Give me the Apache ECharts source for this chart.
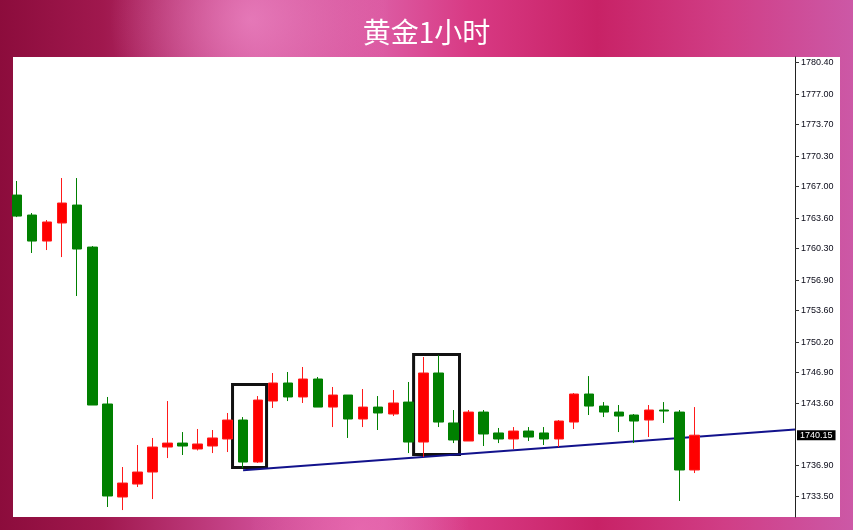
<!DOCTYPE html>
<html>
<head>
<meta charset="utf-8">
<script src="https://cdn.jsdelivr.net/npm/echarts@6/dist/echarts.min.js"></script>
<style>html,body{margin:0;padding:0;background:#c02a70;}#c{width:853px;height:530px;}</style>
</head>
<body>
<div id="c"></div>
<script>
// ---- data ----
var titleText = '黄金1小时';
var openVals  = [1766.10,1763.94,1761.13,1763.08,1765.02,1760.48,1743.52,1733.47,1734.87,1736.17,1738.87,1739.30,1738.66,1738.98,1739.74,1741.79,1737.25,1743.84,1745.79,1744.28,1746.22,1743.19,1744.49,1741.90,1743.19,1742.44,1743.73,1739.41,1746.87,1741.47,1739.52,1742.65,1740.39,1739.74,1740.60,1740.39,1739.74,1741.57,1744.60,1743.30,1742.65,1742.33,1741.79,1742.87,1742.65,1736.39];
var closeVals = [1763.83,1761.13,1763.19,1765.24,1760.27,1743.41,1733.58,1734.98,1736.17,1738.87,1739.30,1738.98,1739.20,1739.85,1741.79,1737.25,1743.95,1745.79,1744.28,1746.22,1743.19,1744.49,1741.90,1743.19,1742.55,1743.63,1739.41,1746.87,1741.57,1739.63,1742.65,1740.28,1739.74,1740.60,1739.95,1739.74,1741.68,1744.60,1743.30,1742.65,1742.22,1741.68,1742.87,1742.76,1736.39,1740.15];
var lowVals   = [1763.72,1759.84,1760.16,1759.40,1755.19,1743.41,1732.39,1732.06,1734.55,1733.25,1737.68,1738.01,1738.50,1738.22,1738.33,1736.60,1737.15,1743.09,1743.84,1743.63,1743.19,1741.03,1739.85,1741.03,1740.71,1742.22,1738.22,1737.79,1741.03,1739.30,1739.52,1738.98,1739.30,1738.66,1739.52,1739.09,1738.87,1740.82,1742.33,1742.11,1740.49,1739.30,1739.95,1741.47,1733.04,1736.06];
var highVals  = [1767.62,1764.16,1763.40,1767.94,1767.94,1760.59,1744.28,1736.71,1739.09,1739.85,1743.84,1740.49,1740.82,1740.71,1742.55,1742.11,1744.38,1746.87,1746.98,1747.52,1746.44,1745.36,1744.49,1745.14,1744.38,1745.03,1745.90,1748.60,1748.81,1742.87,1742.87,1742.87,1740.93,1741.03,1741.03,1741.03,1741.79,1744.71,1746.54,1743.73,1743.41,1742.44,1743.41,1743.73,1742.87,1743.19];
var priceTicks = [1780.40,1777.00,1773.70,1770.30,1767.00,1763.60,1760.30,1756.90,1753.60,1750.20,1746.90,1743.60,1736.90,1733.50];
var lastPrice = 1740.15;
// trend line end points [bar index, price]
var trendStart = [15.02, 1736.35];
var trendEnd   = [51.69, 1740.76];
// highlighted boxes [[x0, yTop], [x1, yBottom]] in bar index / price
var box1 = [[14.32, 1745.63], [16.58, 1736.66]];
var box2 = [[26.35, 1748.87], [29.40, 1738.06]];
var xRange = [-0.266, 51.69];
var yRange = [1731.31, 1781.02];

var candleData = openVals.map(function (o, i) {
  return [i, o, closeVals[i], lowVals[i], highVals[i]];
});

var chart = echarts.init(document.getElementById('c'), null, {renderer: 'canvas'});
chart.setOption({
  animation: false,
  backgroundColor: {
    type: 'linear', x: 0, y: 0, x2: 1, y2: 0,
    colorStops: [
      {offset: 0, color: '#8c0c3c'},
      {offset: 0.12, color: '#a0184e'},
      {offset: 0.3, color: '#cc4a92'},
      {offset: 0.45, color: '#dc5aa2'},
      {offset: 0.55, color: '#d83a84'},
      {offset: 0.7, color: '#c82266'},
      {offset: 0.85, color: '#d03e86'},
      {offset: 1, color: '#cc58a6'}
    ]
  },
  title: {
    text: titleText, left: 'center', top: 13, z: 10,
    textStyle: {color: '#ffffff', fontSize: 28, fontWeight: 'normal', fontFamily: 'Noto Sans CJK SC'}
  },
  graphic: [
    {type: 'circle', shape: {cx: 250, cy: 20, r: 140}, z: -10,
     style: {fill: {type: 'radial', x: 0.5, y: 0.5, r: 0.5, colorStops: [{offset: 0, color: 'rgba(240,140,200,0.7)'}, {offset: 1, color: 'rgba(240,140,200,0)'}]}}},
    {type: 'circle', shape: {cx: 360, cy: 530, r: 110}, z: -10,
     style: {fill: {type: 'radial', x: 0.5, y: 0.5, r: 0.5, colorStops: [{offset: 0, color: 'rgba(235,110,180,0.7)'}, {offset: 1, color: 'rgba(235,110,180,0)'}]}}},
    {type: 'rect', shape: {x: 13, y: 57, width: 827, height: 460}, z: -5, style: {fill: '#ffffff'}}
  ],
  grid: {left: 13, right: 58, top: 57, bottom: 13, containLabel: false},
  xAxis: {
    type: 'value', min: xRange[0], max: xRange[1], show: false, splitLine: {show: false}
  },
  yAxis: {
    type: 'value', position: 'right', min: yRange[0], max: yRange[1], scale: true, z: 10,
    splitLine: {show: false},
    axisLine: {show: true, onZero: false, lineStyle: {color: '#222222', width: 1}},
    axisTick: {show: true, length: 4, customValues: priceTicks, lineStyle: {color: '#333333'}},
    axisLabel: {
      show: true, margin: 6, customValues: priceTicks,
      color: '#0a0a18', fontSize: 9, fontFamily: 'Liberation Sans',
      formatter: function (v) { return v.toFixed(2); }
    }
  },
  series: [
    {
      type: 'line', name: 'trend', z: 2,
      data: [trendStart, trendEnd], symbol: 'none', silent: true,
      lineStyle: {color: '#12128c', width: 2},
      markArea: {
        silent: true,
        itemStyle: {color: 'rgba(0,0,0,0)', borderColor: '#111111', borderWidth: 3},
        data: [
          [{coord: box1[0]}, {coord: box1[1]}],
          [{coord: box2[0]}, {coord: box2[1]}]
        ]
      }
    },
    {
      type: 'candlestick', name: 'XAUUSD H1', z: 3, clip: true,
      data: candleData,
      encode: {x: 0, y: [1, 2, 3, 4]},
      barWidth: 10,
      itemStyle: {color: '#ff0000', color0: '#008000', borderColor: '#ff1a1a', borderColor0: '#008000', borderWidth: 1},
      markLine: {
        silent: true, symbol: 'none',
        lineStyle: {color: 'rgba(0,0,0,0)', width: 1},
        label: {
          show: true, position: 'end', distance: 2,
          backgroundColor: '#000000', color: '#ffffff', fontSize: 9, fontFamily: 'Liberation Sans',
          padding: [1, 3, 0, 3],
          formatter: function () { return lastPrice.toFixed(2); }
        },
        data: [{yAxis: lastPrice}]
      }
    }
  ]
});
</script>
</body>
</html>
